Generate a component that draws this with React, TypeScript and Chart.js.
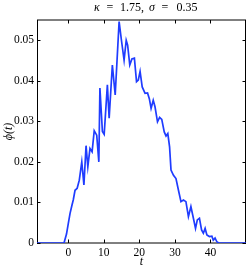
import React, { useEffect, useRef } from "react";
import { Chart, registerables } from "chart.js";

Chart.register(...registerables);

const tValues = [
  -8.8, -1.2, -0.5, 0.0, 0.5, 1.0, 1.4, 1.9, 2.5, 3.1, 3.8, 4.4, 5.0, 5.5, 6.1, 6.7, 7.3, 8.0, 8.6, 8.9,
  9.6, 10.1, 11.0, 11.5, 12.4, 13.2, 14.3, 15.0, 15.7, 16.3, 16.7, 17.3, 17.9, 18.6, 19.2, 19.7, 20.2,
  20.8, 21.6, 22.3, 22.8, 23.3, 23.9, 24.4, 25.1, 25.7, 26.3, 27.0, 27.5, 28.0, 28.5, 28.9, 29.6, 30.3,
  31.0, 31.7, 32.4, 33.1, 33.8, 34.5, 35.2, 35.8, 36.3, 36.9, 37.5, 38.0, 38.5, 39.0, 39.7, 40.4, 40.8,
  41.3, 41.8, 42.3, 50,
];
const phiValues = [
  0, 0, 0.0022, 0.0048, 0.0073, 0.0092, 0.0106, 0.013, 0.0135, 0.0155, 0.02, 0.0143, 0.024, 0.0188,
  0.0233, 0.0225, 0.0277, 0.0266, 0.02, 0.0382, 0.0275, 0.0268, 0.039, 0.0308, 0.0439, 0.0365, 0.0546,
  0.0497, 0.0451, 0.05, 0.0488, 0.0439, 0.0454, 0.0456, 0.0398, 0.0402, 0.0423, 0.0385, 0.0369, 0.037,
  0.0356, 0.0332, 0.0352, 0.0336, 0.0299, 0.031, 0.0305, 0.0274, 0.0264, 0.027, 0.0237, 0.018, 0.0167,
  0.0159, 0.013, 0.0102, 0.0106, 0.0102, 0.0065, 0.009, 0.0061, 0.0036, 0.0057, 0.0061, 0.0032, 0.0024,
  0.0036, 0.002, 0.0016, 0.0017, 0.0007, 0.0012, 0.0003, 0, 0,
];
const xTicks = [0, 10, 20, 30, 40];
const xTickLabels = ["0", "10", "20", "30", "40"];
const yTicks = [0, 0.01, 0.02, 0.03, 0.04, 0.05];
const yTickLabels = ["0", "0.01", "0.02", "0.03", "0.04", "0.05"];
const X_MIN = -8.8;
const X_MAX = 50;
const Y_MIN = 0;
const Y_MAX = 0.055;
const xLabel = "t";
const yLabel = "\u03D5(t)";
// title tokens: [text, italic, x offset from plot center]
const titleTokens: [string, boolean, number][] = [
  ["\u03BA", true, -47.5],
  ["=", false, -35],
  ["1.75", false, -21.5],
  [",", false, -0.5],
  ["\u03C3", true, 7.5],
  ["=", false, 20],
  ["0.35", false, 35],
];

const SERIF = '"Liberation Serif", "DejaVu Serif", serif';

export default function App() {
  const ref = useRef<HTMLCanvasElement>(null);
  useEffect(() => {
    if (!ref.current) return;
    const framePlugin = {
      id: "frame",
      beforeDatasetsDraw(chart: any) {
        const { ctx, chartArea: a, scales } = chart;
        ctx.save();
        ctx.strokeStyle = "#000";
        ctx.lineWidth = 1;
        ctx.beginPath();
        ctx.moveTo(a.left + 0.5, a.top);
        ctx.lineTo(a.left + 0.5, a.bottom);
        ctx.moveTo(a.right - 0.5, a.top);
        ctx.lineTo(a.right - 0.5, a.bottom);
        ctx.moveTo(a.left, a.top);
        ctx.lineTo(a.right, a.top);
        ctx.moveTo(a.left, a.bottom);
        ctx.lineTo(a.right, a.bottom);
        const tl = 3.5;
        for (const v of xTicks) {
          const x = Math.round(scales.x.getPixelForValue(v)) + 0.5;
          ctx.moveTo(x, a.bottom);
          ctx.lineTo(x, a.bottom - tl);
          ctx.moveTo(x, a.top);
          ctx.lineTo(x, a.top + tl);
        }
        for (const v of yTicks) {
          const y = Math.round(scales.y.getPixelForValue(v)) + 0.5;
          ctx.moveTo(a.left, y);
          ctx.lineTo(a.left + tl, y);
          ctx.moveTo(a.right, y);
          ctx.lineTo(a.right - tl, y);
        }
        ctx.stroke();
        ctx.restore();
      },
      afterDraw(chart: any) {
        const { ctx, chartArea: a } = chart;
        ctx.save();
        ctx.fillStyle = "#000";
        ctx.textBaseline = "middle";
        const cx = (a.left + a.right) / 2;
        for (const [txt, it, off] of titleTokens) {
          ctx.font = `${it ? "italic " : ""}12px ${SERIF}`;
          ctx.textAlign = "left";
          ctx.fillText(txt, cx + off, 8);
        }
        ctx.font = `italic 12px ${SERIF}`;
        ctx.textAlign = "center";
        ctx.fillText(xLabel, cx, 262);
        ctx.translate(9, (a.top + a.bottom) / 2);
        ctx.rotate(-Math.PI / 2);
        ctx.fillText(yLabel, 0, 0);
        ctx.restore();
      },
    };
    const chart = new Chart(ref.current, {
      type: "line",
      data: {
        datasets: [
          {
            data: tValues.map((t, i) => ({ x: t, y: phiValues[i] })),
            borderColor: "#1f3cff",
            borderWidth: 1.7,
            pointRadius: 0,
            tension: 0,
            fill: false,
          },
        ],
      },
      options: {
        responsive: false,
        animation: false,
        devicePixelRatio: 1,
        layout: { padding: { left: 0, right: 3, top: 20, bottom: 0 } },
        plugins: { legend: { display: false }, tooltip: { enabled: false }, title: { display: false } },
        scales: {
          x: {
            type: "linear",
            min: X_MIN,
            max: X_MAX,
            grid: { display: false, drawTicks: false },
            border: { display: false },
            afterBuildTicks: (s: any) => {
              s.ticks = xTicks.map((v) => ({ value: v }));
            },
            afterFit: (s: any) => {
              s.height = 26;
            },
            ticks: {
              padding: 3,
              maxRotation: 0,
              color: "#000",
              font: { family: SERIF, size: 11.5 },
              callback: (_v: any, i: number) => xTickLabels[i],
            },
          },
          y: {
            type: "linear",
            min: Y_MIN,
            max: Y_MAX,
            grid: { display: false, drawTicks: false },
            border: { display: false },
            afterBuildTicks: (s: any) => {
              s.ticks = yTicks.map((v) => ({ value: v }));
            },
            afterFit: (s: any) => {
              s.width = 37;
            },
            ticks: {
              padding: 3,
              color: "#000",
              font: { family: SERIF, size: 11.5 },
              callback: (_v: any, i: number) => yTickLabels[i],
            },
          },
        },
      },
      plugins: [framePlugin],
    });
    return () => chart.destroy();
  }, []);
  return (
    <div style={{ position: "absolute", left: 0, top: 0, width: 249, height: 269, background: "#fff" }}>
      <canvas ref={ref} width={249} height={269} style={{ display: "block" }} />
    </div>
  );
}
